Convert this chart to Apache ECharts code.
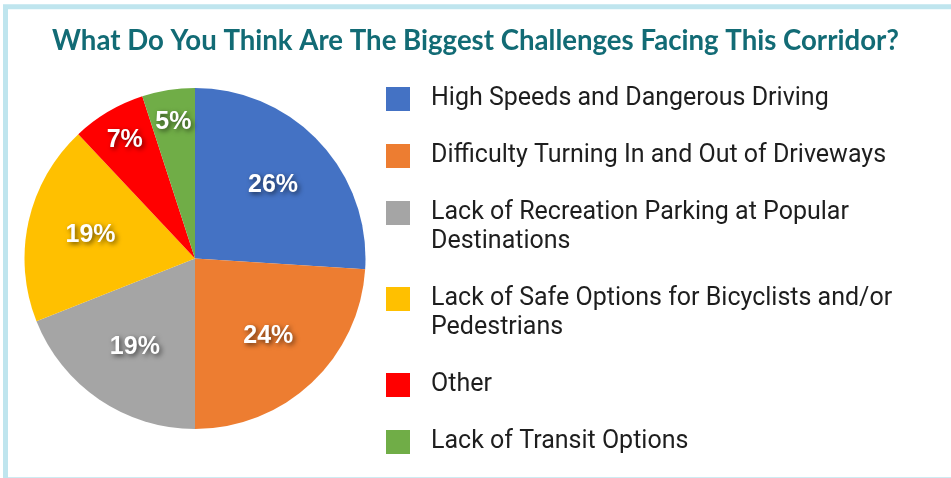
<!DOCTYPE html>
<html>
<head>
<meta charset="utf-8">
<script src="https://cdn.jsdelivr.net/npm/echarts@6/dist/echarts.min.js"></script>
<style>
  html, body { margin: 0; padding: 0; background: #fff; }
  #pie-chart { width: 951px; height: 478px; }
</style>
</head>
<body>
<div id="pie-chart"></div>
<script>
var titleText = 'What Do You Think Are The Biggest Challenges Facing This Corridor?';
var categories = [
    'High Speeds and Dangerous Driving',
    'Difficulty Turning In and Out of Driveways',
    'Lack of Recreation Parking at Popular Destinations',
    'Lack of Safe Options for Bicyclists and/or Pedestrians',
    'Other',
    'Lack of Transit Options'
];
var shares = [26, 24, 19, 19, 7, 5];
var sliceColors = ['#4472c4', '#ed7d31', '#a5a5a5', '#ffc000', '#ff0000', '#70ad47'];
// where the legend text wraps onto a second line
var legendBreaks = {
    'Lack of Recreation Parking at Popular Destinations': 'Lack of Recreation Parking at Popular\nDestinations',
    'Lack of Safe Options for Bicyclists and/or Pedestrians': 'Lack of Safe Options for Bicyclists and/or\nPedestrians'
};

function pieChart(){
    var chart = echarts.init(document.getElementById('pie-chart'));

    var pieData = categories.map(function(name, i){
        return { name: name, value: shares[i], itemStyle: { color: sliceColors[i] } };
    });

    var labelStyle = {
        show: true,
        position: 'inside',
        formatter: '{c}%',
        color: '#fff',
        fontFamily: 'Liberation Sans, Arial',
        fontWeight: 'bold',
        fontSize: 25,
        textShadowColor: 'rgba(0,0,0,0.6)',
        textShadowBlur: 5,
        textShadowOffsetX: 2,
        textShadowOffsetY: 2
    };

    // labels of big slices sit nearer the centre than those of small ones
    function labelSeries(radius, small){
        return {
            type: 'pie',
            center: [195, 258.5],
            radius: radius,
            startAngle: 90,
            silent: true,
            z: 3,
            itemStyle: { color: 'transparent' },
            label: labelStyle,
            labelLine: { show: false },
            emphasis: { disabled: true },
            data: pieData.map(function(d){
                return {
                    name: d.name,
                    value: d.value,
                    itemStyle: { color: 'transparent' },
                    label: { show: small ? d.value < 10 : d.value >= 10 }
                };
            })
        };
    }

    // one legend block per row so the marker lines up with the first text line
    // (two-line rows get an empty line on top to keep the text block centred on line one)
    var legends = [];
    var line = 0;
    categories.forEach(function(name, i){
        var twoLines = !!legendBreaks[name];
        var centre = 99 + 57 * i + 29 * line;
        legends.push({
            orient: 'vertical',
            left: 386,
            top: centre - (twoLines ? 43.5 : 14.5),
            padding: 0,
            itemWidth: 24,
            itemHeight: 24,
            icon: 'rect',
            selectedMode: false,
            data: [{ name: name, itemStyle: { color: sliceColors[i] } }],
            formatter: function(n){ return legendBreaks[n] ? '\n' + legendBreaks[n] : n; },
            textStyle: {
                fontFamily: 'Roboto',
                fontSize: 25,
                lineHeight: 29,
                color: '#1e1e1e',
                padding: [0, 0, 0, 16]
            }
        });
        if (twoLines) line++;
    });

    var option = {
        backgroundColor: '#fff',
        animation: false,
        title: {
            text: titleText,
            left: 'center',
            top: 27,
            padding: 0,
            textStyle: {
                fontFamily: 'Lato',
                fontWeight: 'bold',
                fontSize: 27.6,
                color: '#126b75'
            }
        },
        graphic: [{
            type: 'rect',
            silent: true,
            shape: { x: 5.5, y: 6.8, width: 980, height: 473 },
            style: { fill: 'none', stroke: '#bfe5ee', lineWidth: 5 }
        }],
        legend: legends,
        series: [{
            type: 'pie',
            center: [195, 258.5],
            radius: 170.5,
            startAngle: 90,
            label: { show: false },
            labelLine: { show: false },
            emphasis: { disabled: true },
            data: pieData
        },
        labelSeries([38, 170], false),
        labelSeries([100, 170], true)]
    };

    chart.setOption(option);
    window.onresize = function(){
        chart.resize();
    };
}

pieChart();
</script>
</body>
</html>
